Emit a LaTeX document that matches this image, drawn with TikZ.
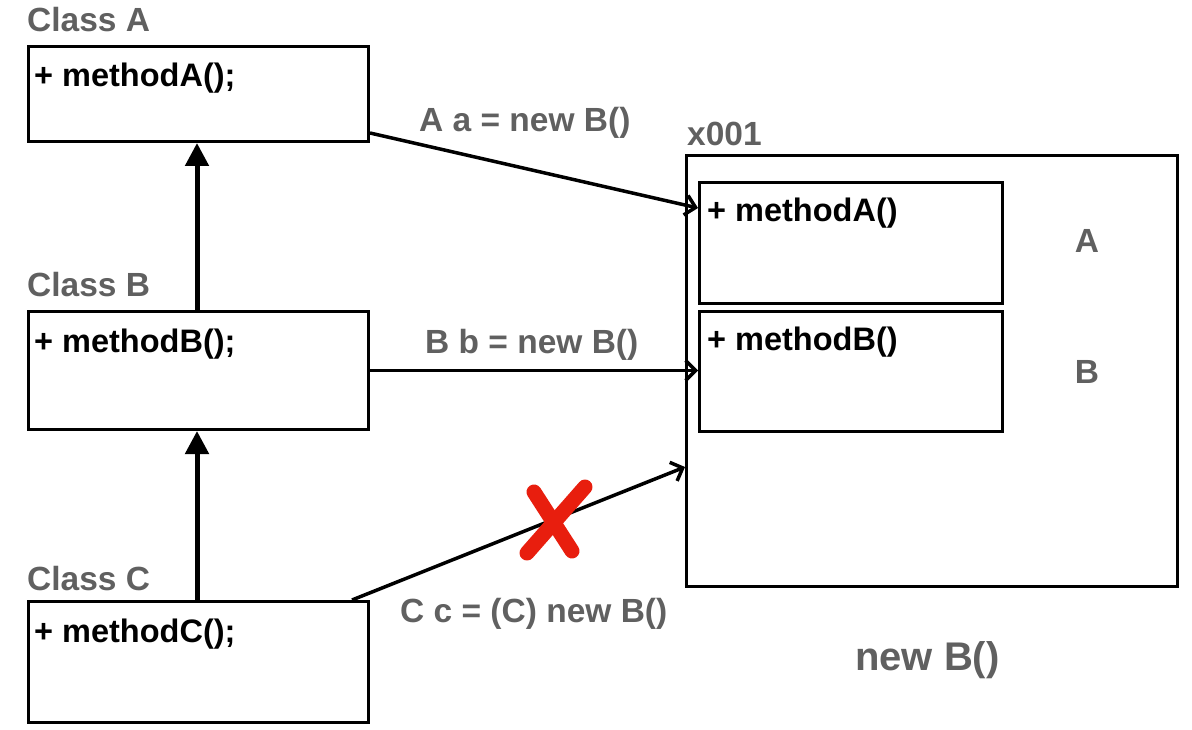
\documentclass[tikz,border=0pt]{standalone}
\usepackage{fontspec}
\setmainfont{Liberation Sans}
\usetikzlibrary{arrows.meta,calc}
\definecolor{lblgray}{RGB}{96,96,96}
\definecolor{xred}{RGB}{232,30,14}
\tikzset{
  cls/.style={draw=black, line width=3pt, minimum width=340pt, minimum height=118pt, anchor=north west, inner sep=0pt},
  inbox/.style={draw=black, line width=3.2pt, minimum width=303pt, minimum height=120pt, anchor=north west, inner sep=0pt},
  txt/.style={anchor=base west, inner sep=0pt, font=\fontsize{32.5}{38}\selectfont\bfseries},
  glbl/.style={txt, text=lblgray, font=\fontsize{33.5}{40}\selectfont\bfseries},
  inherit/.style={line width=5pt, -{Triangle[length=23pt,width=23pt]}},
  ref/.style={line width=3.5pt, -{Straight Barb[length=10pt,width=20pt,line width=3.5pt]}},
}
\begin{document}
\begin{tikzpicture}[x=1pt,y=-1pt]
\useasboundingbox (0,0) rectangle (1192,730);
% class boxes
\node[cls, minimum height=95pt] (boxA) at (27,45) {};
\node[cls] (boxB) at (27,310) {};
\node[cls, minimum height=121pt] (boxC) at (27,600) {};
\node[glbl] (lA) at (27,32) {Class A};
\node[glbl] (lB) at (27,296) {Class B};
\node[glbl] (lC) at (27,590) {Class C};
\node[txt] (mA) at (34,87) {+ methodA();};
\node[txt] (mB) at (34,352) {+ methodB();};
\node[txt] (mC) at (34,642) {+ methodC();};
% inheritance
\draw[inherit] (boxB.north -| 197,0) -- (boxA.south -| 197,0);
\draw[inherit] (boxC.north -| 197,0) -- (boxB.south -| 197,0);
% object
\node[draw=black, line width=3pt, minimum width=491pt, minimum height=431pt, anchor=north west, inner sep=0pt] (obj) at (685,154) {};
\node[glbl] (addr) at (687,146) {x001};
\node[inbox, minimum height=121pt] (inA) at (698,181) {};
\node[inbox] (inB) at (698,310) {};
\node[txt] (imA) at (707,222) {+ methodA()};
\node[txt] (imB) at (707,350) {+ methodB()};
\node[glbl, anchor=base] (pA) at (1087,253) {A};
\node[glbl, anchor=base] (pB) at (1087,383) {B};
\node[glbl, font=\fontsize{40}{46}\selectfont\bfseries] (nb) at (855,670) {new B()};
% references
\coordinate (sA) at ($(boxA.south east)+(0,-10)$);
\coordinate (eA) at ($(inA.north west)+(0,27)$);
\draw[ref] (sA) -- (eA);
\draw[ref] (boxB.east) -- (boxB.east -| inB.west);
\coordinate (sC) at ($(boxC.north west)+(325,0)$);
\coordinate (eC) at ($(obj.north west)+(0,313)$);
\draw[ref] (sC) -- (eC);
\node[glbl] (rA) at (419,132) {A a = new B()};
\node[glbl] (rB) at (425,353) {B b = new B()};
\node[glbl] (rC) at (400,622) {C c = (C) new B()};
% red cross
\coordinate (x1) at (534,492);
\coordinate (x2) at (572,551);
\coordinate (x3) at (585,487);
\coordinate (x4) at (527,553);
\draw[xred, line width=15pt, line cap=round] (x1) -- (x2);
\draw[xred, line width=15pt, line cap=round] (x3) -- (x4);
\end{tikzpicture}
\end{document}
